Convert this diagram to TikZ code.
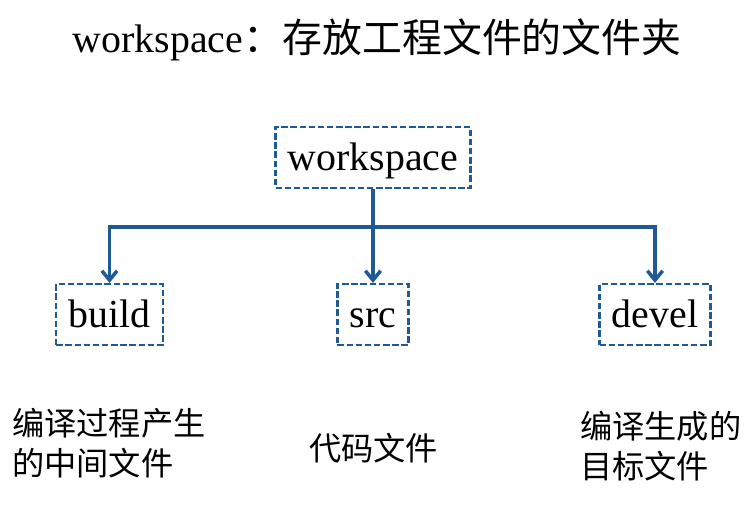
\documentclass[tikz,border=0pt]{standalone}
\usepackage{fontspec}
\setmainfont{Liberation Serif}
\newfontfamily\cjk{Noto Sans CJK SC}
\usetikzlibrary{calc}
\usetikzlibrary{arrows.meta}

\definecolor{treeblue}{RGB}{31,90,150}

\tikzset{
  dirbox/.style={draw=treeblue, line width=1.9pt, dash pattern=on 5.5pt off 2.3pt,
    font=\fontsize{34}{40}\selectfont, inner xsep=10.5pt, minimum height=52pt,
    text height=27pt, text depth=5.5pt},
  branch/.style={treeblue, line width=3pt, -{Straight Barb[length=8pt,width=13pt]}},
  note/.style={anchor=west, align=left, inner sep=0pt, font=\cjk\fontsize{27.5}{34}\selectfont}
}

\begin{document}
\begin{tikzpicture} [x=0.03cm, y=-0.03cm]
\useasboundingbox (0,0) rectangle (756,511);

\node (title) at (377,40) {\fontsize{34}{40}\selectfont workspace{\cjk ：存放工程文件的文件夹}};

\node[dirbox] (ws) at (373,157.5) {workspace};
\node[dirbox] (build) at (109.5,314.5) {build};
\node[dirbox] (src) at (373,314.5) {src};
\node[dirbox] (devel) at (655,314.5) {devel};

\coordinate (bar) at ($(ws.south)+(0,38)$);

\draw[branch] (ws.south) -- (src.north);
\draw[branch] (bar) -| (build.north);
\draw[branch] (bar) -| (devel.north);

\node[note] (buildnote) at (12,443) {编译过程产生\\的中间文件};
\node[note] (srcnote) at (309,448) {代码文件};
\node[note] (develnote) at (580,446.5) {编译生成的\\目标文件};

\end{tikzpicture}
\end{document}
